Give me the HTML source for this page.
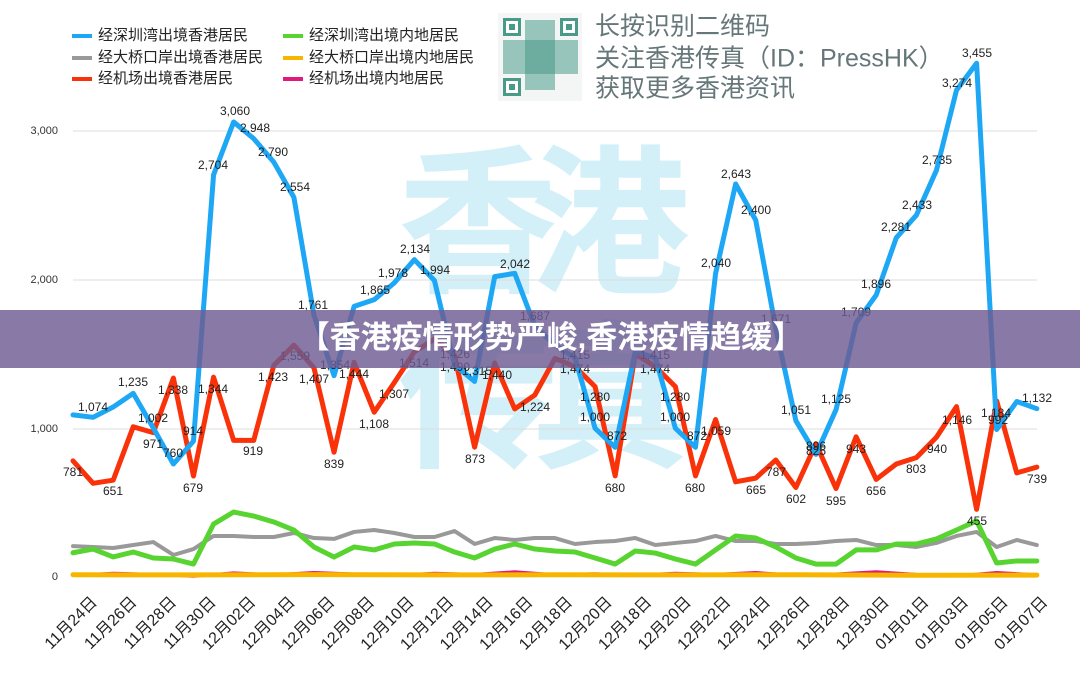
<!DOCTYPE html>
<html><head><meta charset="utf-8"><style>
html,body{margin:0;padding:0;background:#fff;}
svg{display:block;font-family:"Liberation Sans","Noto Sans CJK SC",sans-serif;}
.lb{font-size:12px;fill:#222;text-anchor:middle;dominant-baseline:middle;}
.yl{font-size:11px;fill:#333;text-anchor:end;dominant-baseline:middle;}
.xl{font-size:16px;fill:#222;text-anchor:end;}
.lg{font-size:15px;fill:#222;dominant-baseline:middle;}
.qt{font-size:25px;fill:#66777a;dominant-baseline:middle;}
</style></head><body>
<svg width="1080" height="675" viewBox="0 0 1080 675">
<rect width="1080" height="675" fill="#fff"/>
<!-- watermark -->
<g font-family="'Noto Sans CJK SC',sans-serif" font-weight="bold" font-size="160" fill="#d3f0f9">
<text x="398" y="280">香</text><text x="530" y="280">港</text>
<text x="398" y="455">传</text><text x="530" y="455">真</text>
</g>
<!-- grid -->
<g stroke="#dcdcdc" stroke-width="1">
<line x1="73" y1="131" x2="1037" y2="131"/><line x1="73" y1="280" x2="1037" y2="280"/><line x1="73" y1="429" x2="1037" y2="429"/>
</g>
<text class="yl" x="58" y="131">3,000</text><text class="yl" x="58" y="280">2,000</text><text class="yl" x="58" y="429">1,000</text><text class="yl" x="58" y="577">0</text>
<!-- legend -->
<g stroke-width="4">
<line x1="72" y1="36" x2="92" y2="36" stroke="#1ea7f5"/><line x1="72" y1="58" x2="92" y2="58" stroke="#999"/><line x1="72" y1="79" x2="92" y2="79" stroke="#fa3209"/>
<line x1="283" y1="36" x2="303" y2="36" stroke="#58d430"/><line x1="283" y1="58" x2="303" y2="58" stroke="#f8b500"/><line x1="283" y1="79" x2="303" y2="79" stroke="#e0197a"/>
</g>
<text class="lg" x="98" y="36">经深圳湾出境香港居民</text><text class="lg" x="98" y="58">经大桥口岸出境香港居民</text><text class="lg" x="98" y="79">经机场出境香港居民</text>
<text class="lg" x="309" y="36">经深圳湾出境内地居民</text><text class="lg" x="309" y="58">经大桥口岸出境内地居民</text><text class="lg" x="309" y="79">经机场出境内地居民</text>
<!-- QR -->
<rect x="498" y="13" width="84" height="88" fill="#f3f6f5"/>
<g fill="#4a9a8a">
<rect x="503" y="18" width="18" height="18"/><rect x="560" y="18" width="18" height="18"/><rect x="503" y="78" width="18" height="18"/>
<rect x="525" y="20" width="30" height="70" opacity="0.55"/><rect x="503" y="40" width="75" height="34" opacity="0.55"/>
</g>
<g fill="#fff"><rect x="506" y="21" width="12" height="12"/><rect x="563" y="21" width="12" height="12"/><rect x="506" y="81" width="12" height="12"/></g>
<g fill="#4a9a8a"><rect x="509" y="24" width="6" height="6"/><rect x="566" y="24" width="6" height="6"/><rect x="509" y="84" width="6" height="6"/></g>
<text class="qt" x="595" y="28">长按识别二维码</text>
<text class="qt" x="595" y="60">关注香港传真（ID：PressHK）</text>
<text class="qt" x="595" y="90">获取更多香港资讯</text>
<!-- series -->
<g transform="translate(73,577) scale(20.08,-0.1487)" fill="none" stroke-linejoin="round" stroke-linecap="round">
<polyline vector-effect="non-scaling-stroke" stroke="#999" stroke-width="4" points="0,208 1,202 2,195 3,215 4,235 5,148 6,188 7,276 8,276 9,269 10,269 11,296 12,262 13,256 14,303 15,316 16,296 17,269 18,269 19,309 20,222 21,262 22,249 23,262 24,262 25,222 26,235 27,242 28,262 29,215 30,229 31,242 32,276 33,242 34,242 35,222 36,222 37,229 38,242 39,249 40,215 41,215 42,202 43,229 44,276 45,303 46,202 47,249 48,215"/>
<polyline vector-effect="non-scaling-stroke" stroke="#e0197a" stroke-width="3" points="0,10 2,25 4,18 6,5 8,28 10,15 12,30 14,20 16,10 18,25 20,18 22,35 24,15 26,22 28,12 30,25 32,18 34,30 36,12 38,20 40,35 42,18 44,8 46,30 48,15"/>
<polyline vector-effect="non-scaling-stroke" stroke="#f8b500" stroke-width="5" points="0,15 6,14 12,16 18,14 24,15 30,14 36,15 42,12 48,13"/>
<polyline vector-effect="non-scaling-stroke" stroke="#58d430" stroke-width="5" points="0,163 1,188 2,135 3,168 4,128 5,121 6,87 7,356 8,437 9,410 10,370 11,316 12,202 13,134 14,202 15,182 16,222 17,229 18,222 19,168 20,128 21,188 22,222 23,188 24,175 25,168 26,128 27,87 28,175 29,161 30,121 31,87 32,182 33,276 34,262 35,202 36,128 37,87 38,87 39,182 40,182 41,222 42,222 43,256 44,316 45,377 46,94 47,108 48,108"/>
<polyline vector-effect="non-scaling-stroke" stroke="#fa3209" stroke-width="5" points="0,781 1,630 2,651 3,1010 4,971 5,1338 6,679 7,1344 8,919 9,919 10,1423 11,1559 12,1407 13,839 14,1444 15,1108 16,1307 17,1514 18,1600 19,1490 20,873 21,1440 22,1130 23,1224 24,1470 25,1415 26,1280 27,680 28,1500 29,1415 30,1280 31,680 32,1059 33,640 34,665 35,787 36,602 37,896 38,595 39,943 40,656 41,760 42,803 43,940 44,1146 45,455 46,1184 47,700 48,739"/>
<polyline vector-effect="non-scaling-stroke" stroke="#1ea7f5" stroke-width="5" points="0,1090 1,1074 2,1143 3,1235 4,1002 5,760 6,914 7,2704 8,3060 9,2948 10,2790 11,2554 12,1761 13,1354 14,1820 15,1865 16,1978 17,2134 18,1994 19,1426 20,1315 21,2020 22,2042 23,1687 24,1560 25,1474 26,1000 27,872 28,1515 29,1474 30,1000 31,872 32,2040 33,2643 34,2400 35,1671 36,1051 37,825 38,1125 39,1709 40,1896 41,2281 42,2433 43,2735 44,3274 45,3455 46,992 47,1180 48,1132"/>
</g>
<!-- data labels -->
<g>
<text class="lb" x="93" y="408">1,074</text><text class="lb" x="133" y="383">1,235</text><text class="lb" x="153" y="419">1,002</text><text class="lb" x="173" y="454">760</text><text class="lb" x="193" y="432">914</text>
<text class="lb" x="213" y="166">2,704</text><text class="lb" x="235" y="112">3,060</text><text class="lb" x="255" y="129">2,948</text><text class="lb" x="273" y="153">2,790</text><text class="lb" x="295" y="188">2,554</text>
<text class="lb" x="313" y="306">1,761</text><text class="lb" x="335" y="366">1,354</text><text class="lb" x="375" y="291">1,865</text><text class="lb" x="393" y="274">1,978</text><text class="lb" x="415" y="250">2,134</text><text class="lb" x="435" y="271">1,994</text>
<text class="lb" x="455" y="355">1,426</text><text class="lb" x="477" y="372">1,315</text><text class="lb" x="515" y="265">2,042</text><text class="lb" x="535" y="317">1,687</text>
<text class="lb" x="575" y="356">1,415</text><text class="lb" x="575" y="370">1,474</text><text class="lb" x="595" y="398">1,280</text><text class="lb" x="595" y="418">1,000</text><text class="lb" x="617" y="437">872</text>
<text class="lb" x="655" y="356">1,415</text><text class="lb" x="655" y="370">1,474</text><text class="lb" x="675" y="398">1,280</text><text class="lb" x="675" y="418">1,000</text><text class="lb" x="697" y="437">872</text>
<text class="lb" x="716" y="264">2,040</text><text class="lb" x="736" y="175">2,643</text><text class="lb" x="756" y="211">2,400</text><text class="lb" x="776" y="320">1,671</text><text class="lb" x="796" y="411">1,051</text>
<text class="lb" x="816" y="447">896</text><text class="lb" x="816" y="452">825</text><text class="lb" x="836" y="400">1,125</text><text class="lb" x="856" y="313">1,709</text><text class="lb" x="876" y="285">1,896</text>
<text class="lb" x="896" y="228">2,281</text><text class="lb" x="917" y="206">2,433</text><text class="lb" x="937" y="161">2,735</text><text class="lb" x="957" y="84">3,274</text><text class="lb" x="977" y="54">3,455</text>
<text class="lb" x="996" y="414">1,184</text><text class="lb" x="998" y="421">992</text><text class="lb" x="1037" y="399">1,132</text>
<text class="lb" x="73" y="473">781</text><text class="lb" x="113" y="492">651</text><text class="lb" x="153" y="445">971</text><text class="lb" x="173" y="391">1,338</text><text class="lb" x="193" y="489">679</text><text class="lb" x="213" y="390">1,344</text>
<text class="lb" x="253" y="452">919</text><text class="lb" x="273" y="378">1,423</text><text class="lb" x="295" y="357">1,559</text><text class="lb" x="314" y="380">1,407</text><text class="lb" x="334" y="465">839</text><text class="lb" x="354" y="375">1,444</text>
<text class="lb" x="374" y="425">1,108</text><text class="lb" x="394" y="395">1,307</text><text class="lb" x="414" y="364">1,514</text><text class="lb" x="455" y="368">1,490</text><text class="lb" x="475" y="460">873</text><text class="lb" x="497" y="376">1,440</text><text class="lb" x="535" y="408">1,224</text>
<text class="lb" x="615" y="489">680</text><text class="lb" x="695" y="489">680</text><text class="lb" x="716" y="432">1,059</text><text class="lb" x="756" y="491">665</text><text class="lb" x="776" y="473">787</text><text class="lb" x="796" y="500">602</text>
<text class="lb" x="836" y="502">595</text><text class="lb" x="856" y="450">943</text><text class="lb" x="876" y="492">656</text><text class="lb" x="916" y="470">803</text><text class="lb" x="937" y="450">940</text><text class="lb" x="957" y="421">1,146</text><text class="lb" x="977" y="522">455</text><text class="lb" x="1037" y="480">739</text>
</g>
<!-- x labels -->
<g>
<text class="xl" transform="translate(98,603) rotate(-45)">11月24日</text>
<text class="xl" transform="translate(137.6,603) rotate(-45)">11月26日</text>
<text class="xl" transform="translate(177.2,603) rotate(-45)">11月28日</text>
<text class="xl" transform="translate(216.8,603) rotate(-45)">11月30日</text>
<text class="xl" transform="translate(256.4,603) rotate(-45)">12月02日</text>
<text class="xl" transform="translate(296,603) rotate(-45)">12月04日</text>
<text class="xl" transform="translate(335.6,603) rotate(-45)">12月06日</text>
<text class="xl" transform="translate(375.2,603) rotate(-45)">12月08日</text>
<text class="xl" transform="translate(414.8,603) rotate(-45)">12月10日</text>
<text class="xl" transform="translate(454.4,603) rotate(-45)">12月12日</text>
<text class="xl" transform="translate(494,603) rotate(-45)">12月14日</text>
<text class="xl" transform="translate(533.6,603) rotate(-45)">12月16日</text>
<text class="xl" transform="translate(573.2,603) rotate(-45)">12月18日</text>
<text class="xl" transform="translate(612.8,603) rotate(-45)">12月20日</text>
<text class="xl" transform="translate(652.4,603) rotate(-45)">12月18日</text>
<text class="xl" transform="translate(692,603) rotate(-45)">12月20日</text>
<text class="xl" transform="translate(731.6,603) rotate(-45)">12月22日</text>
<text class="xl" transform="translate(771.2,603) rotate(-45)">12月24日</text>
<text class="xl" transform="translate(810.8,603) rotate(-45)">12月26日</text>
<text class="xl" transform="translate(850.4,603) rotate(-45)">12月28日</text>
<text class="xl" transform="translate(890,603) rotate(-45)">12月30日</text>
<text class="xl" transform="translate(929.6,603) rotate(-45)">01月01日</text>
<text class="xl" transform="translate(969.2,603) rotate(-45)">01月03日</text>
<text class="xl" transform="translate(1008.8,603) rotate(-45)">01月05日</text>
<text class="xl" transform="translate(1048.4,603) rotate(-45)">01月07日</text>
</g>
<!-- banner -->
<rect x="0" y="310" width="1080" height="58" fill="#6e5c92" opacity="0.82"/>
<text x="551" y="340" font-size="31" font-weight="bold" fill="#fff" text-anchor="middle" dominant-baseline="middle" font-family="'Liberation Sans','Noto Sans CJK SC',sans-serif">【香港疫情形势严峻,香港疫情趋缓】</text>
</svg>
</body></html>
